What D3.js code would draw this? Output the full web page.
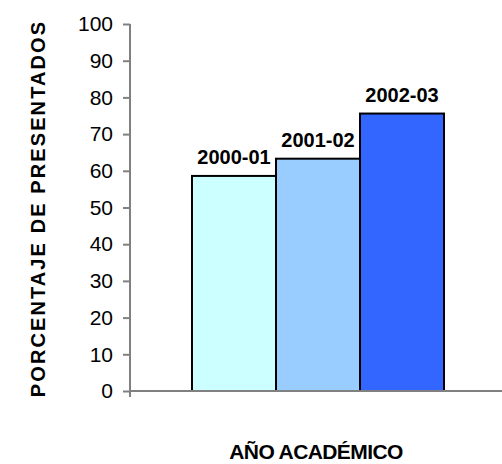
<!DOCTYPE html>
<html>
<head>
<meta charset="utf-8">
<script src="https://cdn.jsdelivr.net/npm/d3@7"></script>
<style>
  html, body { margin: 0; padding: 0; background: #fff; }
  svg { display: block; font-family: "Liberation Sans", Arial, sans-serif; }
</style>
</head>
<body>
<svg id="chart" width="502" height="464"></svg>
<script>
// Academic years (one bar each) and percentage of students who sat the exam
const years = ["2000-01", "2001-02", "2002-03"];
const presentados = [58.6, 63.3, 75.6];
const barColors = ["#CCFFFF", "#99CCFF", "#3366FF"];
const yTicks = [0, 10, 20, 30, 40, 50, 60, 70, 80, 90, 100];

const svg = d3.select("#chart");

// Plot frame
const plotLeft = 130, plotRight = 506, plotTop = 24, plotBottom = 391;
const sideGap = 62;

const y = d3.scaleLinear().domain([0, 100]).range([plotBottom, plotTop]);
const x = d3.scaleBand().domain(years).range([plotLeft + sideGap, plotRight - sideGap]).padding(0);

// Bars
svg.append("g")
  .selectAll("rect")
  .data(years)
  .join("rect")
  .attr("x", d => x(d))
  .attr("y", (d, i) => y(presentados[i]))
  .attr("width", x.bandwidth())
  .attr("height", (d, i) => y(0) - y(presentados[i]))
  .attr("fill", (d, i) => barColors[i])
  .attr("stroke", "#000")
  .attr("stroke-width", 2);

// Year labels above each bar
svg.append("g")
  .selectAll("text")
  .data(years)
  .join("text")
  .attr("x", d => x(d) + x.bandwidth() / 2)
  .attr("y", (d, i) => y(presentados[i]) - 12)
  .attr("text-anchor", "middle")
  .attr("font-size", 20)
  .attr("font-weight", "bold")
  .attr("fill", "#000")
  .text(d => d);

// X axis baseline
svg.append("line")
  .attr("x1", plotLeft).attr("x2", 502)
  .attr("y1", y(0)).attr("y2", y(0))
  .attr("stroke", "#808080").attr("stroke-width", 2);

// Y axis
const yAxis = d3.axisLeft(y).tickValues(yTicks).tickSize(7).tickPadding(10);
const gy = svg.append("g").attr("transform", `translate(${plotLeft},0)`).call(yAxis);
gy.select(".domain").attr("stroke", "#808080").attr("stroke-width", 2)
  .attr("d", `M0,${plotTop}V${plotBottom + 6}`);
gy.selectAll(".tick line").attr("stroke", "#808080").attr("stroke-width", 2);
gy.selectAll(".tick text")
  .attr("font-size", 21)
  .attr("font-family", "Liberation Sans, Arial, sans-serif")
  .attr("fill", "#000");

// Axis titles
svg.append("text")
  .attr("transform", `translate(45,${(plotTop + plotBottom) / 2 + 1}) rotate(-90)`)
  .attr("text-anchor", "middle")
  .attr("font-size", 20)
  .attr("font-weight", "bold")
  .attr("letter-spacing", 2.1)
  .text("PORCENTAJE DE PRESENTADOS");

svg.append("text")
  .attr("x", 316)
  .attr("y", 459)
  .attr("text-anchor", "middle")
  .attr("font-size", 21)
  .attr("font-weight", "bold")
  .attr("letter-spacing", -0.6)
  .text("AÑO ACADÉMICO");
</script>
</body>
</html>
